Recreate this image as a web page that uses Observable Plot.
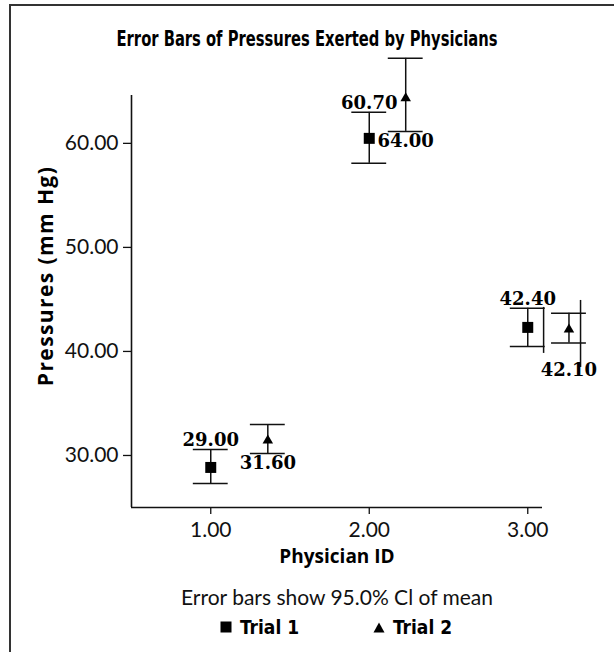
<!DOCTYPE html>
<html>
<head>
<meta charset="utf-8">
<script src="https://cdn.jsdelivr.net/npm/d3@7"></script>
<script src="https://cdn.jsdelivr.net/npm/@observablehq/plot@0.6"></script>
<style>
  html, body { margin: 0; padding: 0; background: #fff; }
  #page { position: relative; width: 614px; height: 652px; overflow: hidden; background: #fff; }
  #frame { position: absolute; left: 9px; top: 4px; width: 700px; height: 700px;
           border-left: 2px solid #333; border-top: 2px solid #333; }
  #chart { position: absolute; left: 0; top: 0; }
  .cond { font-family: "DejaVu Sans Condensed", "DejaVu Sans", sans-serif;
          font-weight: bold; font-stretch: condensed; color: #000; }
  #title { position: absolute; left: 0; width: 614px; top: 27px; text-align: center;
           font-size: 21px; line-height: 24px; transform: scaleX(0.78); transform-origin: 307px 0; }
  #ytitle { position: absolute; left: 45px; top: 276px; width: 0; height: 0; }
  #ytitle span { position: absolute; left: 0; top: 0; white-space: nowrap;
                 transform: translate(-50%, -50%) rotate(-90deg);
                 font-family: "Open Sans", Lato, sans-serif; font-weight: bold; font-size: 21px;
                 letter-spacing: 1.4px; color: #000; line-height: 24px; }
  #caption { position: absolute; left: 130px; width: 414px; top: 584px; text-align: center;
             font-family: Lato, "Open Sans", sans-serif; font-size: 21px; line-height: 26px; color: #111; }
  #legend { position: absolute; top: 615px; left: 0; width: 614px; height: 24px; }
  .item { position: absolute; top: 0; display: flex; align-items: center; height: 24px;
          font-size: 19px; }
  .item svg { margin-right: 8px; }
</style>
</head>
<body>
<div id="page">
  <div id="frame"></div>
  <div id="chart"></div>
  <div id="title" class="cond"></div>
  <div id="ytitle"><span></span></div>
  <div id="caption"></div>
  <div id="legend" class="cond"></div>
</div>
<script>
// ---- data ----
const titleText = "Error Bars of Pressures Exerted by Physicians";
const xTitle = "Physician ID";
const yTitle = "Pressures (mm Hg)";
const captionText = "Error bars show 95.0% Cl of mean";
const seriesNames = ["Trial 1", "Trial 2"];

const physicians = [1, 2, 3];
const trial1X = [1.0, 2.0, 3.0];
const trial1Mean = [28.85, 60.48, 42.31];
const trial1Lo = [27.3, 58.08, 40.48];
const trial1Hi = [30.58, 62.98, 44.16];
const trial1Label = ["29.00", "60.70", "42.40"];

const trial2X = [1.36, 2.23, 3.26];
const trial2Mean = [31.44, 64.33, 42.1];
const trial2Lo = [30.19, 61.15, 40.8];
const trial2Hi = [32.98, 68.17, 43.68];
const trial2Label = ["31.60", "64.00", "42.10"];

// stray vertical strokes visible near physician 3 in the reference
const strayX = [3.1, 3.333];
const strayLo = [39.81, 38.46];
const strayHi = [44.23, 44.9];

const xTicks = [1, 2, 3];
const yTicks = [30, 40, 50, 60];

// ---- build tables ----
const t1 = physicians.map((p, i) => ({x: trial1X[i], mean: trial1Mean[i], lo: trial1Lo[i], hi: trial1Hi[i], label: trial1Label[i], id: p}));
const t2 = physicians.map((p, i) => ({x: trial2X[i], mean: trial2Mean[i], lo: trial2Lo[i], hi: trial2Hi[i], label: trial2Label[i], id: p}));
const stray = strayX.map((x, i) => ({x, lo: strayLo[i], hi: strayHi[i]}));

const capHalf = 0.11; // half-width of error-bar caps in x units
const fmt = d3.format(".2f");
const sans = "Lato, 'Open Sans', sans-serif";
const boldSans = "'Open Sans', Lato, sans-serif";
const serif = "'DejaVu Serif', 'Liberation Serif', serif";

const bars = (data) => [
  Plot.ruleX(data, {x: "x", y1: "lo", y2: "hi", stroke: "#111", strokeWidth: 1.5}),
  Plot.ruleY(data, {y: "hi", x1: d => d.x - capHalf, x2: d => d.x + capHalf, stroke: "#111", strokeWidth: 1.5}),
  Plot.ruleY(data, {y: "lo", x1: d => d.x - capHalf, x2: d => d.x + capHalf, stroke: "#111", strokeWidth: 1.5})
];

const chart = Plot.plot({
  width: 614,
  height: 652,
  marginLeft: 131,
  marginRight: 72,
  marginTop: 95,
  marginBottom: 145,
  style: {background: "transparent", color: "#111", fontFamily: sans, overflow: "visible"},
  x: {domain: [0.5, 3.093]},
  y: {domain: [25, 64.6]},
  marks: [
    Plot.axisX({ticks: xTicks, tickFormat: fmt, tickSize: 7, tickPadding: 8, label: null,
                fontSize: 21, strokeWidth: 1.3}),
    Plot.axisY({ticks: yTicks, tickFormat: fmt, tickSize: 8, tickPadding: 5, label: null,
                fontSize: 21, strokeWidth: 1.3}),
    Plot.ruleY([25], {stroke: "#111", strokeWidth: 1.6}),
    Plot.ruleX([0.5], {stroke: "#111", strokeWidth: 1.6}),
    Plot.text([xTitle], {frameAnchor: "bottom", dy: 55,
                         fontFamily: boldSans, fontWeight: "bold", fontSize: 19, fill: "#000"}),
    ...bars(t1),
    ...bars(t2),
    Plot.ruleX(stray, {x: "x", y1: "lo", y2: "hi", stroke: "#111", strokeWidth: 1.5}),
    Plot.dot(t1, {x: "x", y: "mean", symbol: "square", r: 6.2, fill: "#000", stroke: "none"}),
    Plot.dot(t2, {x: "x", y: "mean", symbol: "triangle", r: 3.9, fill: "#000", stroke: "none"}),
    Plot.text(t1, {x: "x", y: "hi", text: "label", lineAnchor: "bottom", dy: -3,
                   fontFamily: serif, fontWeight: "bold", fontSize: 18, fill: "#000"}),
    Plot.text(t2.filter(d => d.id !== 3), {x: "x", y: "lo", text: "label", lineAnchor: "top", dy: 3,
                   fontFamily: serif, fontWeight: "bold", fontSize: 18, fill: "#000"}),
    Plot.text(t2.filter(d => d.id === 3), {x: "x", y: "lo", text: "label", lineAnchor: "top", dy: 20,
                   fontFamily: serif, fontWeight: "bold", fontSize: 18, fill: "#000"})
  ]
});
document.getElementById("chart").appendChild(chart);

document.getElementById("title").textContent = titleText;
document.querySelector("#ytitle span").textContent = yTitle;
document.getElementById("caption").textContent = captionText;

const legend = document.getElementById("legend");
const sq = `<svg width="12" height="12"><rect x="0.5" y="0.5" width="11" height="11" fill="#000"/></svg>`;
const tri = `<svg width="12" height="11"><path d="M6,0.5 L11.5,10.5 L0.5,10.5 Z" fill="#000"/></svg>`;
const lefts = [220, 373];
seriesNames.forEach((name, i) => {
  const div = document.createElement("div");
  div.className = "item";
  div.style.left = lefts[i] + "px";
  div.innerHTML = (i === 0 ? sq : tri) + `<span>${name}</span>`;
  legend.appendChild(div);
});
</script>
</body>
</html>
